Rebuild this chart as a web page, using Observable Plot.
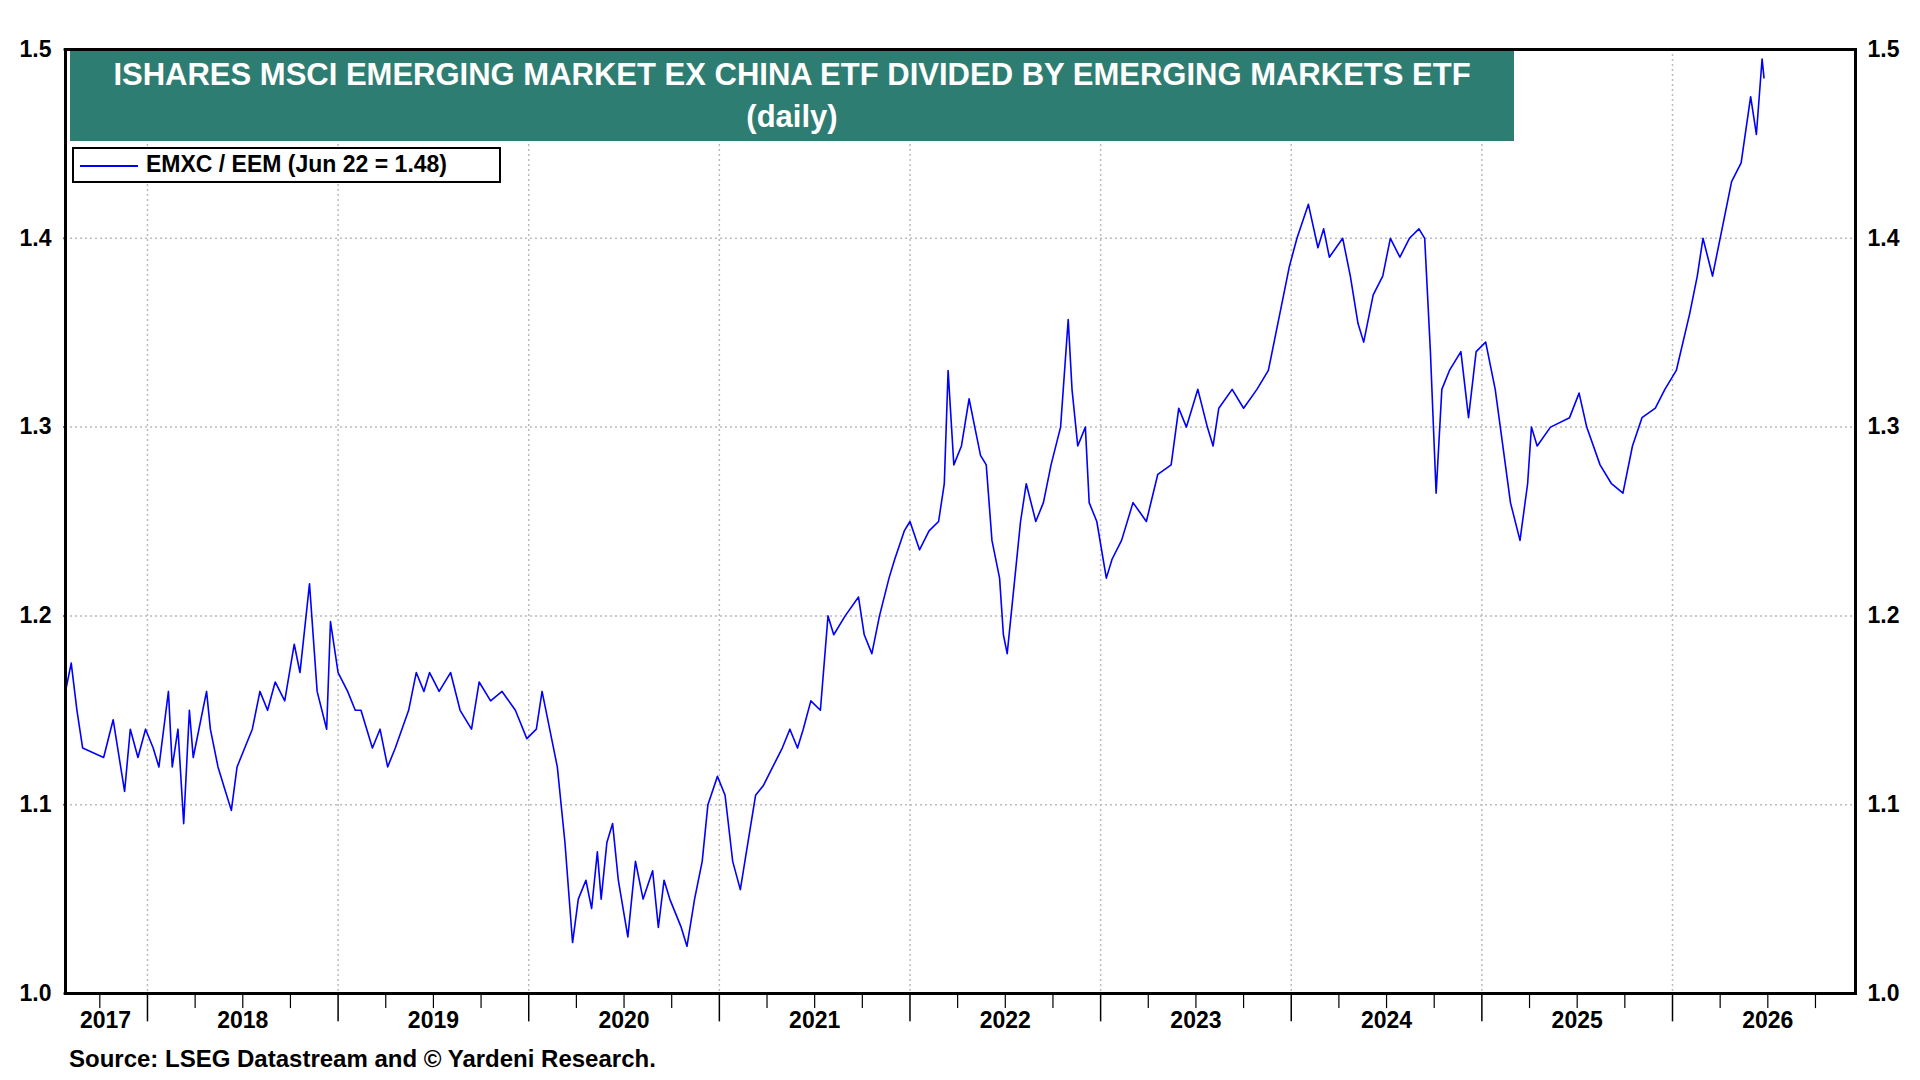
<!DOCTYPE html>
<html><head><meta charset="utf-8">
<script src="https://cdn.jsdelivr.net/npm/d3@7"></script>
<script src="https://cdn.jsdelivr.net/npm/@observablehq/plot@0.6"></script>
<style>
body{margin:0;background:#fff;font-family:"Liberation Sans",Arial,sans-serif;}
#wrap{position:relative;width:1920px;height:1080px;}
#title{position:absolute;left:70px;top:51px;width:1444px;height:90px;background:#2e7d72;color:#fff;font-weight:bold;font-size:31px;text-align:center;line-height:42px;padding-top:3px;box-sizing:border-box;}
#legend{position:absolute;left:72px;top:147px;width:429px;height:36px;border:2.5px solid #000;box-sizing:border-box;background:#fff;font-weight:bold;font-size:23px;line-height:30px;}
#legend span.l{display:inline-block;width:58px;height:2px;background:#0000ff;vertical-align:middle;margin:0 8px 0 6px;}
#src{position:absolute;left:69px;top:1045px;font-weight:bold;font-size:24px;}
</style></head><body>
<div id="wrap"><div id="chart"></div>
<div id="title">ISHARES MSCI EMERGING MARKET EX CHINA ETF DIVIDED BY EMERGING MARKETS ETF<br>(daily)</div>
<div id="legend"><span class="l"></span>EMXC / EEM (Jun 22 = 1.48)</div>
<div id="src">Source: LSEG Datastream and © Yardeni Research.</div>
</div>
<script>
const dates = [2017.57,2017.60,2017.63,2017.66,2017.77,2017.82,2017.88,2017.91,2017.95,2017.99,2018.03,2018.06,2018.11,2018.13,2018.16,2018.19,2018.22,2018.24,2018.31,2018.33,2018.37,2018.40,2018.44,2018.47,2018.51,2018.55,2018.59,2018.63,2018.67,2018.72,2018.77,2018.80,2018.85,2018.89,2018.94,2018.96,2019.00,2019.05,2019.09,2019.12,2019.18,2019.22,2019.26,2019.30,2019.37,2019.41,2019.45,2019.48,2019.53,2019.59,2019.64,2019.70,2019.74,2019.80,2019.86,2019.93,2019.99,2020.04,2020.07,2020.11,2020.15,2020.19,2020.22,2020.23,2020.26,2020.30,2020.33,2020.36,2020.38,2020.41,2020.44,2020.47,2020.52,2020.56,2020.60,2020.65,2020.68,2020.71,2020.74,2020.80,2020.83,2020.87,2020.91,2020.94,2020.99,2021.03,2021.07,2021.11,2021.15,2021.19,2021.23,2021.28,2021.33,2021.37,2021.41,2021.44,2021.48,2021.53,2021.57,2021.60,2021.66,2021.73,2021.76,2021.80,2021.84,2021.89,2021.92,2021.97,2022.00,2022.05,2022.10,2022.15,2022.18,2022.20,2022.23,2022.27,2022.31,2022.34,2022.37,2022.40,2022.43,2022.47,2022.49,2022.51,2022.53,2022.58,2022.61,2022.66,2022.70,2022.74,2022.79,2022.83,2022.85,2022.88,2022.92,2022.94,2022.98,2023.03,2023.06,2023.11,2023.17,2023.24,2023.30,2023.37,2023.41,2023.45,2023.51,2023.56,2023.59,2023.62,2023.69,2023.75,2023.82,2023.88,2023.94,2023.99,2024.03,2024.09,2024.14,2024.17,2024.20,2024.27,2024.31,2024.35,2024.38,2024.43,2024.48,2024.52,2024.57,2024.62,2024.67,2024.70,2024.73,2024.75,2024.76,2024.79,2024.83,2024.89,2024.93,2024.97,2025.02,2025.07,2025.11,2025.15,2025.20,2025.24,2025.26,2025.29,2025.36,2025.46,2025.51,2025.55,2025.62,2025.68,2025.74,2025.79,2025.84,2025.91,2025.96,2026.02,2026.09,2026.13,2026.16,2026.21,2026.26,2026.31,2026.36,2026.41,2026.44,2026.47,2026.48];
const ratio = [1.16,1.175,1.15,1.13,1.125,1.145,1.107,1.14,1.125,1.14,1.13,1.12,1.16,1.12,1.14,1.09,1.15,1.125,1.16,1.14,1.12,1.11,1.097,1.12,1.13,1.14,1.16,1.15,1.165,1.155,1.185,1.17,1.217,1.16,1.14,1.197,1.17,1.16,1.15,1.15,1.13,1.14,1.12,1.13,1.15,1.17,1.16,1.17,1.16,1.17,1.15,1.14,1.165,1.155,1.16,1.15,1.135,1.14,1.16,1.14,1.12,1.08,1.04,1.027,1.05,1.06,1.045,1.075,1.05,1.08,1.09,1.06,1.03,1.07,1.05,1.065,1.035,1.06,1.05,1.035,1.025,1.05,1.07,1.10,1.115,1.105,1.07,1.055,1.08,1.105,1.11,1.12,1.13,1.14,1.13,1.14,1.155,1.15,1.20,1.19,1.20,1.21,1.19,1.18,1.20,1.22,1.23,1.245,1.25,1.235,1.245,1.25,1.27,1.33,1.28,1.29,1.315,1.30,1.285,1.28,1.24,1.22,1.19,1.18,1.20,1.25,1.27,1.25,1.26,1.28,1.30,1.357,1.32,1.29,1.30,1.26,1.25,1.22,1.23,1.24,1.26,1.25,1.275,1.28,1.31,1.30,1.32,1.30,1.29,1.31,1.32,1.31,1.32,1.33,1.36,1.385,1.40,1.418,1.395,1.405,1.39,1.40,1.38,1.355,1.345,1.37,1.38,1.40,1.39,1.40,1.405,1.40,1.34,1.29,1.265,1.32,1.33,1.34,1.305,1.34,1.345,1.32,1.29,1.26,1.24,1.27,1.30,1.29,1.30,1.305,1.318,1.30,1.28,1.27,1.265,1.29,1.305,1.31,1.32,1.33,1.36,1.38,1.40,1.38,1.405,1.43,1.44,1.475,1.455,1.495,1.485];
const yTicks = [1.0,1.1,1.2,1.3,1.4,1.5];
const yearLabels = [2017,2018,2019,2020,2021,2022,2023,2024,2025,2026];
const yearLabelPos = [2017.78,2018.5,2019.5,2020.5,2021.5,2022.5,2023.5,2024.5,2025.5,2026.5];
const yearStarts = [2018,2019,2020,2021,2022,2023,2024,2025,2026];
const data = dates.map((d,i)=>({t:d,v:ratio[i]}));
const quarters = d3.range(2017.75,2026.99,0.25).filter(q=>!yearStarts.includes(q));
const X0=2017.57, X1=2026.96;
const tk = 0.004;
const chart = Plot.plot({
  width:1920,height:1040,marginLeft:65,marginRight:65,marginTop:49,marginBottom:47,
  x:{domain:[X0,X1],axis:null},
  y:{domain:[1,1.5],axis:null},
  style:{fontFamily:"'Liberation Sans',Arial,sans-serif"},
  marks:[
    Plot.ruleY(yTicks.slice(1),{stroke:"#bbb",strokeDasharray:"2,3",strokeWidth:1.5}),
    Plot.ruleX(yearStarts,{stroke:"#bbb",strokeDasharray:"2,3",strokeWidth:1.5}),
    Plot.line(data,{x:"t",y:"v",stroke:"#0000ff",strokeWidth:1.6}),
    Plot.frame({stroke:"#000",strokeWidth:3}),
    Plot.ruleY(yTicks,{y:d=>d,x1:X0,x2:X0-tk*2,stroke:"#000",strokeWidth:2,clip:false}),
    Plot.ruleY(yTicks,{y:d=>d,x1:X1,x2:X1+tk*2,stroke:"#000",strokeWidth:2,clip:false}),
    Plot.text(yTicks,{y:d=>d,frameAnchor:"left",dx:-14,textAnchor:"end",text:d=>d.toFixed(1),fontSize:23,fontWeight:"bold",fill:"#000"}),
    Plot.text(yTicks,{y:d=>d,frameAnchor:"right",dx:12,textAnchor:"start",text:d=>d.toFixed(1),fontSize:23,fontWeight:"bold",fill:"#000"}),
    Plot.ruleX(yearStarts,{x:d=>d,y1:1,y2:0.985,stroke:"#000",strokeWidth:1.5,clip:false}),
    Plot.ruleX(quarters,{x:d=>d,y1:1,y2:0.992,stroke:"#000",strokeWidth:1.2,clip:false}),
    Plot.text(yearLabels,{x:(d,i)=>yearLabelPos[i],frameAnchor:"bottom",dy:34,text:d=>String(d),fontSize:23,fontWeight:"bold",fill:"#000"})
  ]
});
document.getElementById("chart").appendChild(chart);
</script>
</body></html>
